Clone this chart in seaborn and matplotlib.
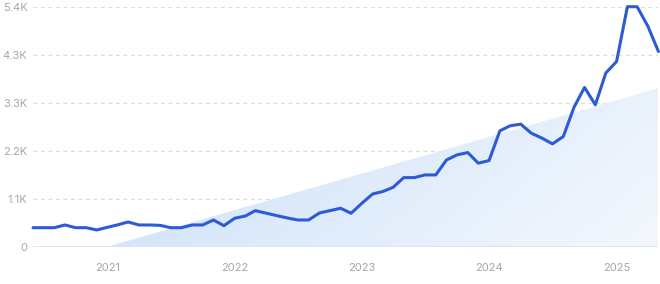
import numpy as np
import pandas as pd
import matplotlib
matplotlib.use("Agg")
import matplotlib.pyplot as plt
import matplotlib.dates as mdates
import seaborn as sns
from matplotlib.colors import LinearSegmentedColormap

# ---- data ----
months = pd.date_range("2020-06-01", periods=60, freq="MS")
values = [428, 428, 428, 489, 428, 428, 376, 437, 496, 556,
          489, 489, 480, 428, 428, 489, 489, 601, 473, 640,
          692, 811, 755, 700, 647, 601, 601, 759, 811, 865,
          752, 978, 1187, 1239, 1338, 1555, 1555, 1615, 1615, 1953,
          2066, 2118, 1879, 1938, 2607, 2719, 2758, 2555, 2442, 2314,
          2478, 3141, 3583, 3193, 3907, 4168, 5400, 5400, 4957, 4393]
trend_dates = pd.to_datetime(["2021-01-01", "2025-05-01"])
trend_values = [0, 3565]
ytick_values = [0, 1080, 2160, 3240, 4320, 5400]
ytick_labels = ["0", "1.1K", "2.2K", "3.3K", "4.3K", "5.4K"]
xtick_years = [2021, 2022, 2023, 2024, 2025]

df = pd.DataFrame({"month": months, "value": values})

sns.set_theme(style="white")
plt.rcParams["font.family"] = ["Inter", "DejaVu Sans"]

fig = plt.figure(figsize=(6.6, 2.84), dpi=100)
ax = fig.add_axes([33 / 660, 37.3 / 284, (658.4 - 33) / 660, 240 / 284])

# gradient trend area
poly = ax.fill_between(trend_dates, 0, trend_values, color="none", lw=0)
tx = mdates.date2num(trend_dates)
nx, ny = 200, 50
xf = np.linspace(0, 1, nx)[None, :]
yf = np.linspace(1, 0, ny)[:, None]
grad = 0.75 * xf + 0.25 * (1 - yf)
cmap = LinearSegmentedColormap.from_list("g", ["#cadff8", "#f4f8fe"])
im = ax.imshow(grad, extent=[tx[0], tx[1], 0, trend_values[1]], aspect="auto",
               cmap=cmap, vmin=0, vmax=1, zorder=1, origin="upper")
im.set_clip_path(poly.get_paths()[0], transform=ax.transData)

# grid lines
for v in ytick_values[1:]:
    ax.axhline(v, color="#dcdcdc", lw=0.9, ls=(0, (3, 3)), zorder=0.5)
ax.axhline(0, color="#d6e5f8", lw=1.3, zorder=1.5)

sns.lineplot(data=df, x="month", y="value", ax=ax, color="#2d5bd6",
             linewidth=2.2, zorder=3, clip_on=False)

ax.set_xlim(months[0], months[-1])
ax.set_ylim(0, 5400)
ax.set_yticks(ytick_values)
ax.set_yticklabels(ytick_labels)
ax.set_xticks([pd.Timestamp(f"{y}-01-01") for y in xtick_years])
ax.set_xticklabels([str(y) for y in xtick_years])
ax.tick_params(axis="y", length=0, pad=4, labelsize=8, labelcolor="#a6a6a6")
ax.tick_params(axis="x", length=0, pad=12, labelsize=8, labelcolor="#a6a6a6")
ax.set_xlabel("")
ax.set_ylabel("")
ax.grid(False)
for s in ax.spines.values():
    s.set_visible(False)

fig.savefig("out.png", dpi=100)
